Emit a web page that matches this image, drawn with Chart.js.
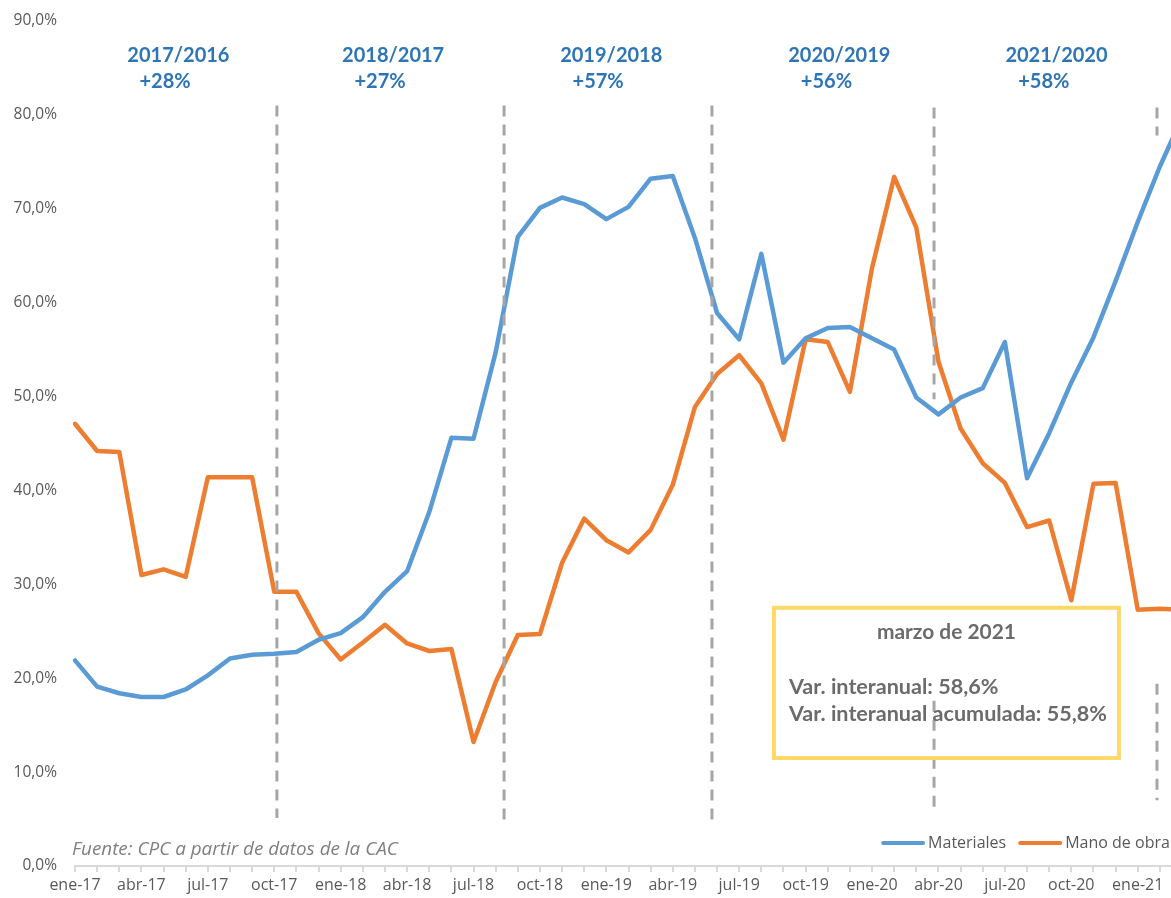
<!DOCTYPE html>
<html>
<head>
<meta charset="utf-8">
<script src="https://cdn.jsdelivr.net/npm/chart.js@4.4.0/dist/chart.umd.min.js"></script>
<style>
    html, body { margin: 0; padding: 0; background: #ffffff; overflow: hidden; }
    #wrap { width: 1190px; height: 898px; }
</style>
</head>
<body>
<div id="wrap"><canvas id="chart"></canvas></div>
<script>
// months, ene-17 .. mar-21
const months = [
    'ene-17', 'feb-17', 'mar-17', 'abr-17', 'may-17', 'jun-17', 'jul-17', 'ago-17', 'sep-17', 'oct-17', 'nov-17', 'dic-17',
    'ene-18', 'feb-18', 'mar-18', 'abr-18', 'may-18', 'jun-18', 'jul-18', 'ago-18', 'sep-18', 'oct-18', 'nov-18', 'dic-18',
    'ene-19', 'feb-19', 'mar-19', 'abr-19', 'may-19', 'jun-19', 'jul-19', 'ago-19', 'sep-19', 'oct-19', 'nov-19', 'dic-19',
    'ene-20', 'feb-20', 'mar-20', 'abr-20', 'may-20', 'jun-20', 'jul-20', 'ago-20', 'sep-20', 'oct-20', 'nov-20', 'dic-20',
    'ene-21', 'feb-21', 'mar-21'
];

// year-on-year variation, %
const materiales = [
    21.9, 19.1, 18.4, 18.0, 18.0, 18.8, 20.3, 22.1, 22.5, 22.6, 22.8, 24.1,
    24.8, 26.5, 29.2, 31.4, 37.7, 45.6, 45.5, 54.7, 67.0, 70.1, 71.2, 70.5,
    68.9, 70.2, 73.2, 73.5, 66.9, 58.9, 56.1, 65.2, 53.6, 56.2, 57.3, 57.4,
    56.2, 55.0, 49.9, 48.1, 49.9, 50.9, 55.8, 41.3, 46.1, 51.5, 56.3, 62.3,
    68.6, 74.5, 79.7
];
const manoDeObra = [
    47.1, 44.2, 44.1, 31.0, 31.6, 30.8, 41.4, 41.4, 41.4, 29.2, 29.2, 24.8,
    22.0, 23.8, 25.7, 23.7, 22.9, 23.1, 13.2, 19.6, 24.6, 24.7, 32.3, 37.0,
    34.7, 33.4, 35.8, 40.6, 48.9, 52.4, 54.4, 51.4, 45.4, 56.1, 55.8, 50.5,
    63.7, 73.4, 68.0, 53.7, 46.6, 42.9, 40.8, 36.1, 36.8, 28.3, 40.7, 40.8,
    27.3, 27.4, 27.3
];

const periodYears = ['2017/2016', '2018/2017', '2019/2018', '2020/2019', '2021/2020'];
const periodChanges = ['+28%', '+27%', '+57%', '+56%', '+58%'];

const boxTitle = 'marzo de 2021';
const boxLines = ['Var. interanual: 58,6%', 'Var. interanual acumulada: 55,8%'];
const sourceText = 'Fuente: CPC a partir de datos de la CAC';

// annotation placement, in month index / percent units
const periodYearsAt = [4.67, 14.37, 24.22, 34.52, 44.33];
const periodChangesAt = [4.07, 13.78, 23.63, 33.94, 43.76];
const separators = [
    { at: 9.12, top: 81.0, bottom: 5.1 },
    { at: 19.38, top: 81.0, bottom: 4.9 },
    { at: 28.77, top: 81.0, bottom: 4.9 },
    { at: 38.8, top: 80.8, bottom: 49.7 },
    { at: 38.8, top: 17.6, bottom: 5.6 },
    { at: 48.87, top: 80.8, bottom: 77.8 },
    { at: 48.87, top: 19.4, bottom: 7.0 }
];

const FONT = '"Open Sans", Lato, sans-serif';
const BOLD_FONT = 'Lato, "Open Sans", sans-serif';
const GREY_TEXT = '#595959';

// pick a font size so that text spans the wanted width
const fitFont = (ctx, text, style, family, width) => {
    ctx.font = `${style} 20px ${family}`;
    const size = 20 * width / ctx.measureText(text).width;
    ctx.font = `${style} ${size.toFixed(2)}px ${family}`;
};

const annotations = {
    id: 'annotations',
    afterDatasetsDraw(chart) {
        const ctx = chart.ctx;
        const x = chart.scales.x;
        const y = chart.scales.y;
        const area = chart.chartArea;
        ctx.save();

        // dashed period separators
        ctx.strokeStyle = '#A6A6A6';
        ctx.lineWidth = 3;
        ctx.setLineDash([11, 8]);
        separators.forEach((s) => {
            const px = x.getPixelForValue(s.at);
            ctx.beginPath();
            ctx.moveTo(px, y.getPixelForValue(s.top));
            ctx.lineTo(px, y.getPixelForValue(s.bottom));
            ctx.stroke();
        });
        ctx.setLineDash([]);

        // period headings
        ctx.fillStyle = '#2E75B6';
        ctx.textAlign = 'center';
        ctx.textBaseline = 'middle';
        ctx.font = 'bold 20px ' + BOLD_FONT;
        periodYears.forEach((t, i) => {
            ctx.fillText(t, x.getPixelForValue(periodYearsAt[i]), y.getPixelForValue(86.3));
        });
        periodChanges.forEach((t, i) => {
            ctx.fillText(t, x.getPixelForValue(periodChangesAt[i]), y.getPixelForValue(83.5));
        });

        // yellow info box
        const bx0 = x.getPixelForValue(31.57), bx1 = x.getPixelForValue(47.15);
        const by0 = y.getPixelForValue(27.5), by1 = y.getPixelForValue(11.5);
        ctx.strokeStyle = '#FFD966';
        ctx.lineWidth = 4;
        ctx.strokeRect(bx0, by0, bx1 - bx0, by1 - by0);

        ctx.fillStyle = '#6B6B6B';
        fitFont(ctx, boxTitle, 'bold', BOLD_FONT, 139);
        ctx.textAlign = 'center';
        ctx.fillText(boxTitle, (bx0 + bx1) / 2, y.getPixelForValue(24.9));
        fitFont(ctx, boxLines[1], 'bold', BOLD_FONT, 318);
        ctx.textAlign = 'left';
        ctx.fillText(boxLines[0], x.getPixelForValue(32.25), y.getPixelForValue(19.1));
        ctx.fillText(boxLines[1], x.getPixelForValue(32.25), y.getPixelForValue(16.2));

        // source note
        ctx.fillStyle = '#7F7F7F';
        fitFont(ctx, sourceText, 'italic', FONT, 326);
        ctx.fillText(sourceText, area.left - 3, area.bottom - 16);

        // legend
        ctx.font = '16px ' + FONT;
        ctx.fillStyle = GREY_TEXT;
        let lx = x.getPixelForValue(36.5);
        const ly = area.bottom - 23;
        chart.data.datasets.forEach((ds) => {
            ctx.strokeStyle = ds.borderColor;
            ctx.lineWidth = 4;
            ctx.lineCap = 'round';
            ctx.beginPath();
            ctx.moveTo(lx, ly);
            ctx.lineTo(lx + 40, ly);
            ctx.stroke();
            ctx.fillText(ds.label, lx + 45, ly);
            lx += 45 + ctx.measureText(ds.label).width + 14;
        });

        ctx.restore();
    }
};

new Chart(document.getElementById('chart'), {
    type: 'line',
    data: {
        labels: months,
        datasets: [
            {
                label: 'Materiales',
                data: materiales,
                borderColor: '#5B9BD5',
                borderWidth: 4.5,
                pointRadius: 0,
                tension: 0,
                borderJoinStyle: 'round',
                borderCapStyle: 'round'
            },
            {
                label: 'Mano de obra',
                data: manoDeObra,
                borderColor: '#ED7D31',
                borderWidth: 4.5,
                pointRadius: 0,
                tension: 0,
                borderJoinStyle: 'round',
                borderCapStyle: 'round'
            }
        ]
    },
    options: {
        responsive: true,
        maintainAspectRatio: false,
        animation: false,
        layout: {
            padding: { top: 21, right: 8, left: 0, bottom: 0 }
        },
        plugins: {
            legend: { display: false },
            tooltip: { enabled: false }
        },
        scales: {
            x: {
                offset: false,
                afterFit: (scale) => { scale.height = 32; },
                grid: {
                    display: true,
                    drawOnChartArea: false,
                    drawTicks: true,
                    tickLength: 6,
                    color: '#D9D9D9',
                    lineWidth: 2
                },
                border: { color: '#D9D9D9', width: 2 },
                ticks: {
                    autoSkip: false,
                    maxRotation: 0,
                    padding: 4,
                    color: GREY_TEXT,
                    font: { family: FONT, size: 16 },
                    callback: (v, i) => (i % 3 === 0 ? months[i] : '')
                }
            },
            y: {
                min: 0,
                max: 90,
                afterFit: (scale) => {
                    scale.width = 75;
                    scale.paddingTop = 0;
                    scale.paddingBottom = 0;
                },
                grid: { display: false, drawTicks: false },
                border: { display: false },
                ticks: {
                    stepSize: 10,
                    padding: 18,
                    color: GREY_TEXT,
                    font: { family: FONT, size: 15.5 },
                    callback: (v) => v.toFixed(1).replace('.', ',') + '%'
                }
            }
        }
    },
    plugins: [annotations]
});
</script>
</body>
</html>
